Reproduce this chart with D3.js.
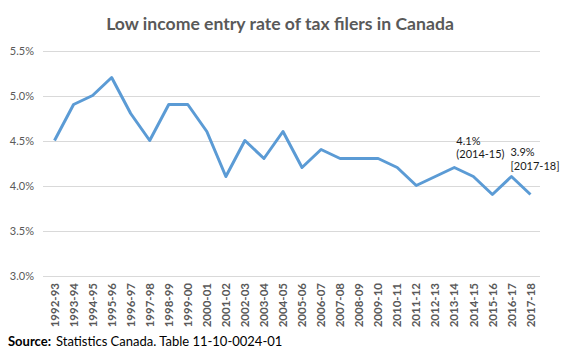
<!DOCTYPE html>
<html>
<head>
<meta charset="utf-8">
<script src="https://cdn.jsdelivr.net/npm/d3@7"></script>
<style>
  body { margin: 0; background: #fff; }
  text { font-family: Lato, "Open Sans", sans-serif; }
</style>
</head>
<body>
<svg id="chart"></svg>
<script>
// chart size
var width = 566,
    height = 362;

// fiscal years on the x axis
var years = ["1992-93", "1993-94", "1994-95", "1995-96", "1996-97", "1997-98",
  "1998-99", "1999-00", "2000-01", "2001-02", "2002-03", "2003-04", "2004-05",
  "2005-06", "2006-07", "2007-08", "2008-09", "2009-10", "2010-11", "2011-12",
  "2012-13", "2013-14", "2014-15", "2015-16", "2016-17", "2017-18"];

// low income entry rate, percent
var rates = [4.5, 4.9, 5.0, 5.2, 4.8, 4.5, 4.9, 4.9, 4.6, 4.1, 4.5, 4.3, 4.6,
  4.2, 4.4, 4.3, 4.3, 4.3, 4.2, 4.0, 4.1, 4.2, 4.1, 3.9, 4.1, 3.9];

var yTicks = [3.0, 3.5, 4.0, 4.5, 5.0, 5.5];

// callout labels: [anchor year, line1, line2]
var notes = [
  ["2013-14", "4.1%", "(2014-15)"],
  ["2016-17", "3.9%", "[2017-18]"]
];

var svg = d3.select("#chart")
    .attr("width", width)
    .attr("height", height);

var x = d3.scaleBand()
    .domain(years)
    .range([45, 540]);

var y = d3.scaleLinear()
    .domain([3.0, 5.5])
    .range([275.5, 50.5]);

// gridlines
svg.append("g")
  .selectAll("line")
  .data(yTicks)
  .enter().append("line")
    .attr("x1", 43)
    .attr("x2", 540)
    .attr("y1", function(d) { return Math.round(y(d)) + 0.5; })
    .attr("y2", function(d) { return Math.round(y(d)) + 0.5; })
    .attr("stroke", "#d9d9d9")
    .attr("stroke-width", 1);

// y axis labels
var yAxis = svg.append("g")
    .attr("transform", "translate(40,0)")
    .call(d3.axisLeft(y).tickValues(yTicks).tickSize(0).tickPadding(6)
      .tickFormat(function(d) { return d.toFixed(1) + "%"; }));
yAxis.select(".domain").remove();
yAxis.selectAll("text")
    .attr("font-family", "Lato, sans-serif")
    .attr("font-size", 11)
    .attr("fill", "#595959");

// x axis labels, rotated
var xAxis = svg.append("g")
    .attr("transform", "translate(0,280)")
    .call(d3.axisBottom(x).tickSize(0).tickPadding(0));
xAxis.select(".domain").remove();
xAxis.selectAll("text")
    .attr("font-family", "Lato, sans-serif")
    .attr("font-size", 11.5)
    .attr("font-weight", "bold")
    .attr("fill", "#595959")
    .attr("transform", "rotate(-90)")
    .attr("text-anchor", "end")
    .attr("x", -3)
    .attr("y", 0)
    .attr("dy", "0.36em");

// the line
var line = d3.line()
    .x(function(d, i) { return x(years[i]) + x.bandwidth() / 2; })
    .y(function(d) { return y(d); });

svg.append("path")
    .datum(rates)
    .attr("d", line)
    .attr("fill", "none")
    .attr("stroke", "#5b9bd5")
    .attr("stroke-width", 3)
    .attr("stroke-linejoin", "round");

// callouts, nudged the way the original labels sit
var nudges = [[2, -23, 13], [-1, -21, 14]];
notes.forEach(function(n, k) {
  var idx = years.indexOf(n[0]);
  var cx = x(n[0]) + x.bandwidth() / 2 + nudges[k][0];
  var cy = y(rates[idx]) + nudges[k][1];
  var t = svg.append("text")
      .attr("x", cx)
      .attr("y", cy)
      .attr("font-size", 11)
      .attr("fill", "#1a1a1a");
  t.append("tspan").text(n[1]);
  t.append("tspan").attr("x", cx).attr("dy", nudges[k][2]).text(n[2]);
});

// title
svg.append("text")
    .attr("x", 280)
    .attr("y", 30)
    .attr("text-anchor", "middle")
    .attr("font-size", 17.6)
    .attr("font-weight", "bold")
    .attr("fill", "#595959")
    .text("Low income entry rate of tax filers in Canada");

// source note
var src = svg.append("text")
    .attr("x", 8)
    .attr("y", 346)
    .attr("font-size", 13)
    .attr("fill", "#000");
src.append("tspan").attr("font-weight", "bold").text("Source:");
src.append("tspan").attr("dx", 5).text("Statistics Canada. Table 11-10-0024-01");
</script>
</body>
</html>
